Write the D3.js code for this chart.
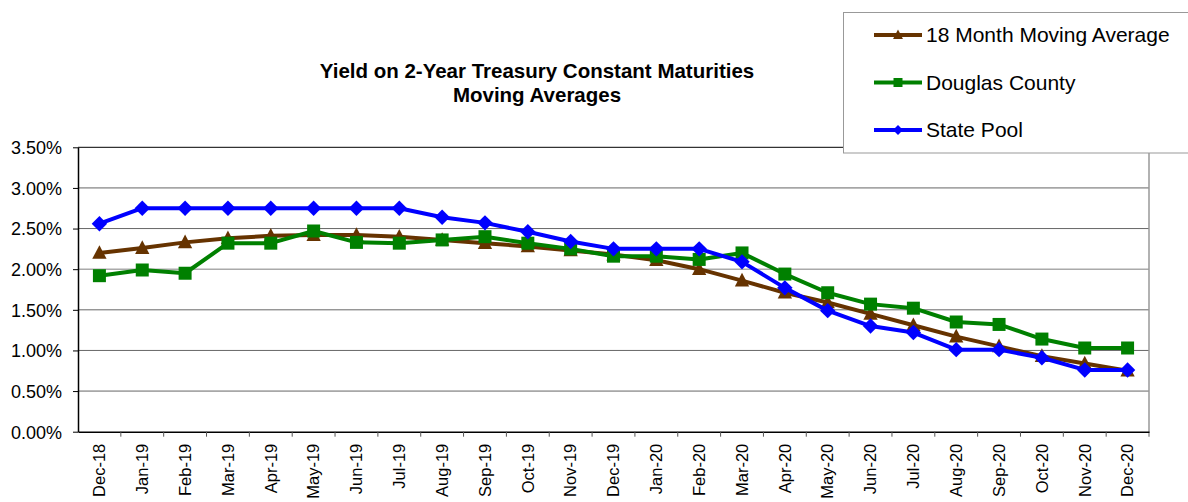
<!DOCTYPE html>
<html><head><meta charset="utf-8">
<script src="https://cdn.jsdelivr.net/npm/d3@7"></script>
<style>body{margin:0;background:#fff}svg{display:block}text{font-family:"Liberation Sans",Arial,sans-serif}</style>
</head><body><svg id="c" width="1188" height="502"></svg>
<script>
const months = ["Dec-18","Jan-19","Feb-19","Mar-19","Apr-19","May-19","Jun-19","Jul-19","Aug-19","Sep-19","Oct-19","Nov-19","Dec-19","Jan-20","Feb-20","Mar-20","Apr-20","May-20","Jun-20","Jul-20","Aug-20","Sep-20","Oct-20","Nov-20","Dec-20"];
const movingAvg18 = [2.20,2.26,2.33,2.38,2.41,2.42,2.42,2.40,2.36,2.32,2.28,2.23,2.18,2.11,2.00,1.86,1.71,1.59,1.45,1.31,1.17,1.05,0.93,0.84,0.75];
const douglasCounty = [1.92,1.99,1.95,2.32,2.32,2.47,2.33,2.32,2.36,2.40,2.32,2.25,2.16,2.16,2.12,2.20,1.94,1.71,1.57,1.52,1.35,1.32,1.14,1.03,1.03];
const statePool = [2.56,2.75,2.75,2.75,2.75,2.75,2.75,2.75,2.64,2.57,2.46,2.34,2.25,2.25,2.25,2.09,1.77,1.49,1.30,1.22,1.01,1.01,0.91,0.76,0.76];
const yTicks = [0,0.5,1,1.5,2,2.5,3,3.5];
const seriesNames = ["18 Month Moving Average","Douglas County","State Pool"];
const titleLines = ["Yield on 2-Year Treasury Constant Maturities","Moving Averages"];

const series = [
  {name: seriesNames[0], values: movingAvg18, color: "#663300", marker: "triangle"},
  {name: seriesNames[1], values: douglasCounty, color: "#008000", marker: "square"},
  {name: seriesNames[2], values: statePool, color: "#0000FF", marker: "diamond"}
];

const svg = d3.select("#c");
const L = 78, R = 1149, T = 147.3, B = 431.7;
const x = d3.scaleBand().domain(months).range([L, R]);
const y = d3.scaleLinear().domain([0, 3.5]).range([B, T]);

// gridlines
svg.append("g").selectAll("line").data(yTicks.filter(d => d > 0)).join("line")
  .attr("x1", L).attr("x2", R).attr("y1", d => y(d)).attr("y2", d => y(d))
  .attr("stroke", d => d === 3.5 ? "#000" : (d === 2 ? "#aaa" : "#666"))
  .attr("stroke-width", d => d === 2 ? 1.5 : 1);
// right border
svg.append("line").attr("x1", R).attr("x2", R).attr("y1", T).attr("y2", B + 5).attr("stroke", "#999").attr("stroke-width", 1.5);

// y axis
const yAxis = svg.append("g").attr("transform", `translate(${L},0)`)
  .call(d3.axisLeft(y).tickValues(yTicks).tickSize(5).tickSizeOuter(0).tickFormat(d => d.toFixed(2) + "%"));
yAxis.select(".domain").attr("stroke", "#000").attr("stroke-width", 1.5);
yAxis.selectAll(".tick line").attr("stroke", "#000");
yAxis.selectAll("text").attr("font-size", 18).attr("fill", "#000").attr("x", -16).attr("dy", "0.35em");

// x axis
const xAxis = svg.append("g").attr("transform", `translate(0,${B})`)
  .call(d3.axisBottom(x).tickSize(0).tickSizeOuter(0));
xAxis.select(".domain").attr("stroke", "#000").attr("stroke-width", 1.5);
xAxis.selectAll("text").attr("font-size", 16.5).attr("fill", "#000")
  .attr("transform", "rotate(-90)").attr("text-anchor", "end")
  .attr("x", -12).attr("y", 0).attr("dy", "0.35em");
// category boundary ticks
svg.append("g").selectAll("line").data(months.slice(1)).join("line")
  .attr("x1", d => x(d)).attr("x2", d => x(d)).attr("y1", B).attr("y2", B + 5)
  .attr("stroke", "#555");

function markerPath(type, s) {
  if (type === "triangle") return `M0,${-s*0.6}L${s*0.55},${s*0.45}L${-s*0.55},${s*0.45}Z`;
  if (type === "square") return `M${-s/2},${-s/2}h${s}v${s}h${-s}Z`;
  return `M0,${-s*0.55}L${s*0.55},0L0,${s*0.55}L${-s*0.55},0Z`;
}
const markerSize = {triangle: 13, square: 13, diamond: 14};

const line = d3.line().x((d, i) => x(months[i]) + x.bandwidth() / 2).y(d => y(d));
series.forEach(s => {
  const g = svg.append("g");
  g.append("path").datum(s.values).attr("d", line).attr("fill", "none")
    .attr("stroke", s.color).attr("stroke-width", 4).attr("stroke-linejoin", "round");
  g.selectAll("path.m").data(s.values).join("path").attr("class", "m")
    .attr("transform", (d, i) => `translate(${x(months[i]) + x.bandwidth() / 2},${y(d)})`)
    .attr("d", markerPath(s.marker, markerSize[s.marker])).attr("fill", s.color);
});

// title
svg.append("text").attr("x", 537).attr("y", 78).attr("text-anchor", "middle")
  .attr("font-size", 20.5).attr("font-weight", "bold").text(titleLines[0]);
svg.append("text").attr("x", 537).attr("y", 102).attr("text-anchor", "middle")
  .attr("font-size", 20.5).attr("font-weight", "bold").text(titleLines[1]);

// legend
svg.append("rect").attr("x", 843.5).attr("y", 12.5).attr("width", 360).attr("height", 140.5)
  .attr("fill", "#fff").attr("stroke", "#999").attr("stroke-width", 1);
series.forEach((s, i) => {
  const ly = 35 + i * 47.5;
  svg.append("line").attr("x1", 874).attr("x2", 922).attr("y1", ly).attr("y2", ly)
    .attr("stroke", s.color).attr("stroke-width", 4);
  svg.append("path").attr("transform", `translate(898,${ly})`)
    .attr("d", markerPath(s.marker, 9))
    .attr("fill", s.color);
  svg.append("text").attr("x", 926).attr("y", ly).attr("dy", "0.35em")
    .attr("font-size", 21).attr("fill", "#000").text(s.name);
});
</script></body></html>
